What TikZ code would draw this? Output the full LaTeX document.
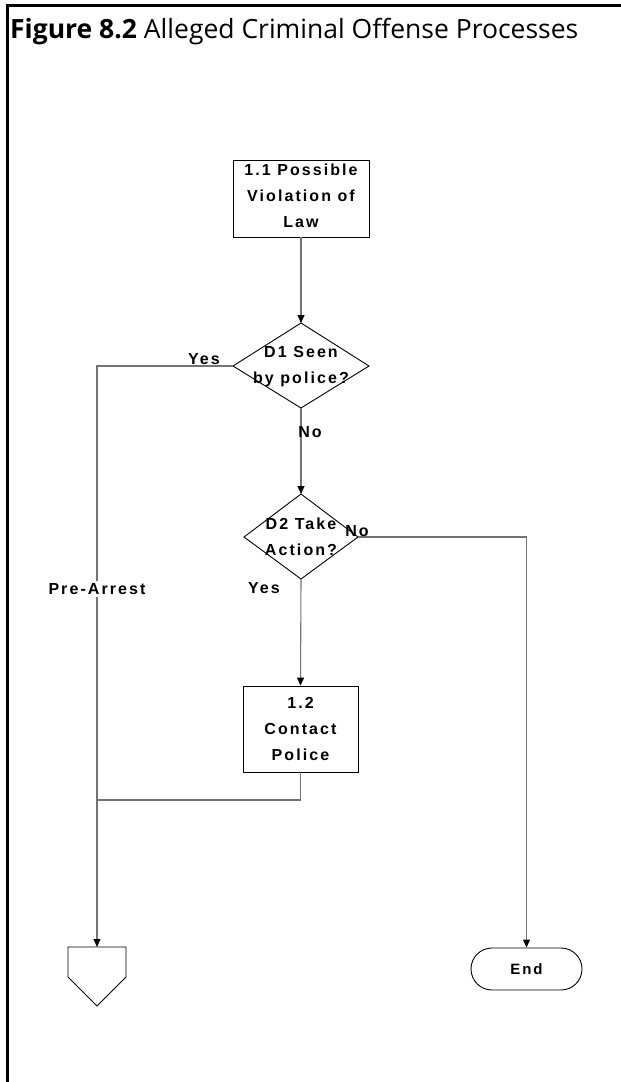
\documentclass[tikz,border=0pt]{standalone}
\usepackage{fontspec}
\setmainfont{Liberation Sans}
\newfontfamily\titlefont{Open Sans}
\newfontfamily\lblfont[LetterSpace=13]{Liberation Sans}
\usetikzlibrary{arrows.meta}
\definecolor{lin}{RGB}{115,115,115}
\tikzset{
  conn/.style={draw=lin, line width=1.1pt},
  arr/.style={conn, -{Triangle[length=8pt,width=7pt,color=black]}},
  shapeline/.style={draw=black, line width=0.9pt},
  procbox/.style={shapeline, fill=white, inner sep=0pt, align=center, font=\lblfont\bfseries\fontsize{16}{26}\selectfont},
  txt/.style={inner sep=0pt, align=center, font=\lblfont\bfseries\fontsize{16}{26}\selectfont},
}
\begin{document}
\begin{tikzpicture}[x=1pt,y=-1pt]
\useasboundingbox (0,0) rectangle (621,1082);
% frame
\draw[line width=3pt] (621,5) -- (7,5) -- (7,1082);
\node[anchor=base west, inner sep=0pt] (title) at (10,38) {\titlefont\fontsize{26.5}{30}\selectfont\bfseries Figure 8.2 \mdseries Alleged Criminal Offense Processes};

% process boxes
\node[procbox, minimum width=136pt, minimum height=77pt] (b11) at (301,198.5) {};
\node[txt] (b11t) at (301,196) {1.1 Possible\\Violation of\\Law};
\node[procbox, minimum width=115pt, minimum height=86pt] (b12) at (300.5,729) {};
\node[txt] (b12t) at (300.5,729) {1.2\\Contact\\Police};

% decision D1
\coordinate (d1t) at (301,323);
\coordinate (d1l) at (233,366);
\coordinate (d1r) at (369,366);
\coordinate (d1b) at (301,408);
\draw[shapeline] (d1t) -- (d1r) -- (d1b) -- (d1l) -- cycle;
\node[txt] (d1) at (301,367) {D1 Seen\\by police?};

% decision D2
\coordinate (d2t) at (301,494);
\coordinate (d2l) at (244,537);
\coordinate (d2r) at (358,537);
\coordinate (d2b) at (301,579);
\draw[shapeline] (d2t) -- (d2r) -- (d2b) -- (d2l) -- cycle;
\node[txt] (d2) at (301,537) {D2 Take\\Action?};

% off-page connector
\coordinate (off) at (97,947);
\draw[shapeline] (68,947) -- (126,947) -- (126,977) -- (97,1006) -- (68,977) -- cycle;

% terminator
\node[shapeline, rounded corners=21pt, minimum width=111pt, minimum height=42pt, inner sep=0pt, font=\lblfont\bfseries\fontsize{15}{16}\selectfont] (endn) at (526.5,969) {End};

% junction
\coordinate (jn) at (97,800);

% connectors
\draw[arr] (b11.south) -- (d1t);
\draw[arr] (d1l) -| (off);
\draw[arr] (d1b) -- (d2t);
\draw[arr] (d2b) -- (b12.north);
\draw[arr] (d2r) -| (endn.north);
\draw[conn] (b12.south) |- (jn);

% labels
\node[txt, fill=white, inner sep=2pt] (pre) at (97,589) {Pre-Arrest};
\node[txt] (yes1) at (204,359) {Yes};
\node[txt] (no1) at (310,432) {No};
\node[txt] (no2) at (357,531) {No};
\node[txt] (yes2) at (264,588) {Yes};
\end{tikzpicture}
\end{document}
